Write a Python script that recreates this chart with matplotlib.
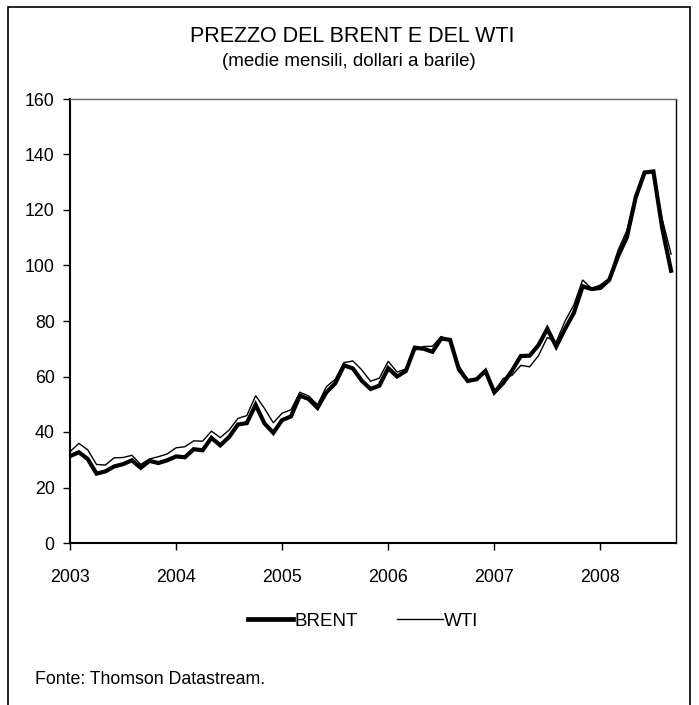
import numpy as np
import matplotlib
matplotlib.use("Agg")
import matplotlib.pyplot as plt
from matplotlib.lines import Line2D
from matplotlib.patches import Rectangle

plt.rcParams['font.family'] = ['Liberation Sans', 'DejaVu Sans']

# medie mensili, gen 2003 - set 2008
brent = [31.3, 32.7, 30.3, 25.0, 25.8, 27.6, 28.4, 29.8, 27.1, 29.6, 28.8, 29.8,
         31.2, 30.9, 33.8, 33.4, 37.9, 35.2, 38.2, 42.7, 43.2, 49.8, 43.1, 39.7,
         44.3, 45.6, 53.1, 51.9, 48.7, 54.3, 57.5, 64.0, 62.9, 58.5, 55.5, 56.7,
         63.0, 60.0, 62.0, 70.4, 70.0, 68.9, 73.7, 73.2, 62.5, 58.4, 59.0, 62.0,
         54.3, 57.6, 62.1, 67.4, 67.5, 71.3, 77.2, 70.8, 77.1, 82.9, 92.5, 91.5,
         91.9, 94.8, 103.3, 110.2, 124.6, 133.5, 133.9, 113.4, 98.1]
wti = [32.9, 35.9, 33.6, 28.3, 28.1, 30.7, 30.8, 31.6, 28.3, 30.3, 31.1, 32.1,
       34.3, 34.7, 36.8, 36.7, 40.3, 38.0, 40.7, 44.9, 45.9, 53.1, 48.5, 43.3,
       46.8, 48.0, 54.3, 53.0, 49.8, 56.3, 59.0, 65.0, 65.6, 62.4, 58.3, 59.4,
       65.5, 61.6, 62.7, 69.4, 70.8, 70.9, 74.4, 73.1, 63.8, 58.9, 59.1, 62.0,
       54.5, 59.3, 60.4, 64.0, 63.5, 67.5, 74.1, 72.4, 79.9, 85.8, 94.8, 91.7,
       93.0, 95.4, 105.5, 112.6, 125.4, 133.9, 133.4, 116.7, 104.1]
years = ['2003', '2004', '2005', '2006', '2007', '2008']
yticks = [0, 20, 40, 60, 80, 100, 120, 140, 160]

W, H = 699, 705
fig = plt.figure(figsize=(W / 100, H / 100), dpi=100)
ax = fig.add_axes([70 / W, 1 - 543 / H, (675.5 - 70) / W, (543 - 99) / H])

x = np.arange(len(brent))
ax.plot(x, wti, color='black', lw=1.0, solid_joinstyle='miter')
ax.plot(x, brent, color='black', lw=3.0, solid_joinstyle='miter')

ax.set_xlim(0, 68.5)
ax.set_ylim(0, 160)
ax.set_yticks(yticks)
ax.set_xticks(np.arange(len(years)) * 12)
ax.set_xticklabels(years)
ax.tick_params(axis='both', direction='out', length=5, width=1, labelsize=12.8, color='black')
ax.tick_params(axis='x', pad=14)
ax.tick_params(axis='y', pad=6)
for s in ['left', 'bottom']:
    ax.spines[s].set_linewidth(1.5)
ax.spines['right'].set_linewidth(1.0)
ax.spines['top'].set_linewidth(1.0)
ax.spines['top'].set_color('#666666')

fig.text(352 / W, 1 - 37 / H, 'PREZZO DEL BRENT E DEL WTI', ha='center', va='center', fontsize=15.5)
fig.text(349 / W, 1 - 62 / H, '(medie mensili, dollari a barile)', ha='center', va='center', fontsize=13.5)

# legenda
handles = [Line2D([], [], color='black', lw=3.4), Line2D([], [], color='black', lw=1.0)]
fig.legend(handles, ['BRENT', 'WTI'], loc='center', bbox_to_anchor=(363 / W, 1 - 621 / H),
           ncol=2, frameon=False, fontsize=13.5, handlelength=2.45, handletextpad=0.05,
           columnspacing=2.1)

fig.text(35 / W, 1 - 679 / H, 'Fonte: Thomson Datastream.', ha='left', va='center', fontsize=12.8)

# cornice
fig.patches.append(Rectangle((8 / W, -0.01), (690 - 8) / W, 1 - 7 / H + 0.01,
                             transform=fig.transFigure, fill=False, lw=1.2, ec='black'))

fig.savefig('out.png', dpi=100)
